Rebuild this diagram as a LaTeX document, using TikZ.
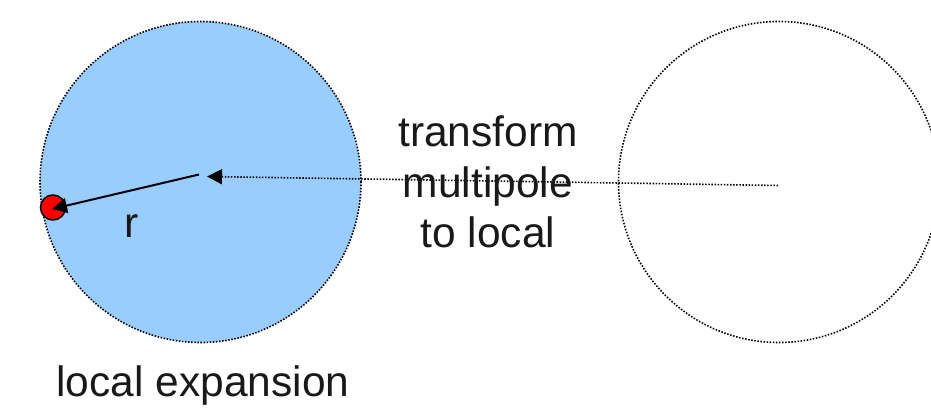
\documentclass[tikz,border=0pt]{standalone}
\usepackage{fontspec}
\setmainfont{Liberation Sans}
\usetikzlibrary{arrows.meta}
\definecolor{lblue}{RGB}{153,204,255}
\tikzset{
  dotline/.style={line width=1.6pt, dash pattern=on 1.5pt off 1.6pt, black},
  bigfont/.style={font=\fontsize{42.5}{50.5}\selectfont, inner sep=0pt, text=black!90},
  tip/.style={-{Triangle[length=15pt,width=15pt]}}
}
\begin{document}
\begin{tikzpicture}[x=1pt,y=-1pt]
\useasboundingbox (0,0) rectangle (931,415);
\node[circle, draw, dotline, fill=lblue, minimum size=321pt, inner sep=0pt] (L) at (200.5,182) {};
\node[circle, draw, dotline, minimum size=321pt, inner sep=0pt] (R) at (779,182) {};
\coordinate (rc) at (778,185.5);
\coordinate (ltip) at (207,176.5);
\coordinate (lstart) at (199,174.5);
\node[circle, draw=black, line width=1.5pt, fill=red, minimum size=25pt, inner sep=0pt] (dot) at (53,207.5) {};
\coordinate (dtip) at (52,209);
\draw[dotline, tip] (rc) -- (ltip);
\draw[line width=2pt, tip] (lstart) -- (dtip);
\node[bigfont, align=center] (lbl) at (488,182) {transform\\multipole\\to local};
\node[bigfont] (r) at (132,226) {r};
\node[bigfont] (le) at (203,386) {local expansion};
\end{tikzpicture}
\end{document}
